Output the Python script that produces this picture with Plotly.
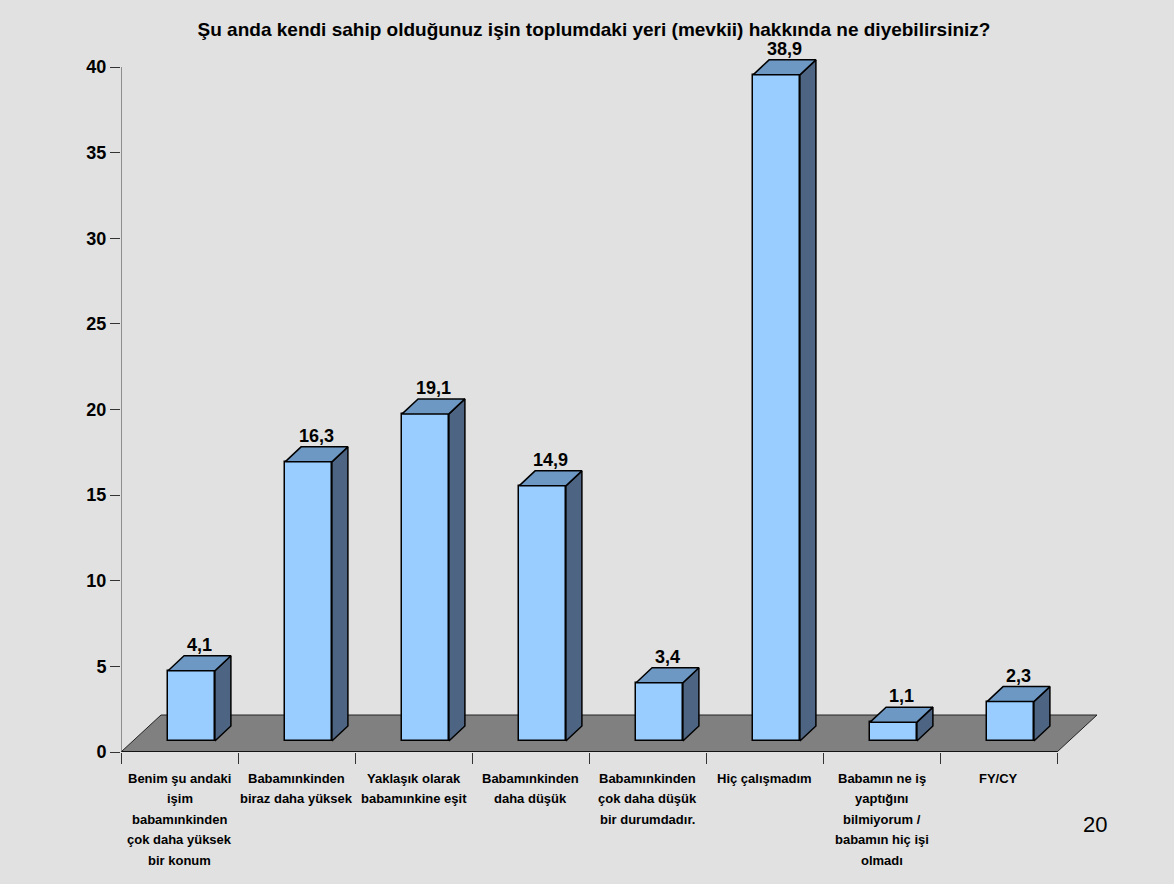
import plotly.graph_objects as go

# data
categories = [
    ["Benim şu andaki", "işim", "babamınkinden", "çok daha yüksek", "bir konum"],
    ["Babamınkinden", "biraz daha yüksek"],
    ["Yaklaşık olarak", "babamınkine eşit"],
    ["Babamınkinden", "daha düşük"],
    ["Babamınkinden", "çok daha düşük", "bir durumdadır."],
    ["Hiç çalışmadım"],
    ["Babamın ne iş", "yaptığını", "bilmiyorum /", "babamın hiç işi", "olmadı"],
    ["FY/CY"],
]
values = [4.1, 16.3, 19.1, 14.9, 3.4, 38.9, 1.1, 2.3]
y_ticks = [0, 5, 10, 15, 20, 25, 30, 35, 40]
title_text = "Şu anda kendi sahip olduğunuz işin toplumdaki yeri (mevkii) hakkında ne diyebilirsiniz?"
page_number = "20"

# geometry in px
W, H = 1174, 884
L, R, T, B = 121, 74, 36, 132
PX_X = 117.0     # px per category
PX_Y = 17.125    # px per unit
plot_w = W - L - R
plot_h = H - T - B
n = len(values)

FLOOR_DX, FLOOR_DY = 40 / PX_X, 37 / PX_Y
FRONT_DX, FRONT_DY = 12 / PX_X, 11 / PX_Y
DEPTH_DX, DEPTH_DY = 16 / PX_X, 15 / PX_Y
BAR_W = 0.4

FONT = "Liberation Sans, Arial, sans-serif"
BG = "#E1E1E1"
FRONT_C, TOP_C, SIDE_C = "#99CCFF", "#6E98C4", "#4D6582"

fig = go.Figure()

centers = [i + FRONT_DX for i in range(n)]
fig.add_trace(go.Bar(
    x=centers, y=values, base=FRONT_DY, width=BAR_W,
    marker=dict(color=FRONT_C, line=dict(color="black", width=1.5)),
    hoverinfo="skip", showlegend=False,
))

side_x, side_y, top_x, top_y = [], [], [], []
for c, v in zip(centers, values):
    lft, rgt = c - BAR_W / 2, c + BAR_W / 2
    bot, tp = FRONT_DY, FRONT_DY + v
    side_x += [rgt, rgt + DEPTH_DX, rgt + DEPTH_DX, rgt, rgt, None]
    side_y += [bot, bot + DEPTH_DY, tp + DEPTH_DY, tp, bot, None]
    top_x += [lft, rgt, rgt + DEPTH_DX, lft + DEPTH_DX, lft, None]
    top_y += [tp, tp, tp + DEPTH_DY, tp + DEPTH_DY, tp, None]

fig.add_trace(go.Scatter(x=side_x, y=side_y, mode="lines", fill="toself",
                         fillcolor=SIDE_C, line=dict(color="black", width=1.5),
                         hoverinfo="skip", showlegend=False))
fig.add_trace(go.Scatter(x=top_x, y=top_y, mode="lines", fill="toself",
                         fillcolor=TOP_C, line=dict(color="black", width=1.5),
                         hoverinfo="skip", showlegend=False))

# floor
x0, x1 = -0.5, n - 0.5
fig.add_shape(type="path", xref="x", yref="y", layer="below",
              path=f"M {x0},0 L {x1},0 L {x1 + FLOOR_DX},{FLOOR_DY} L {x0 + FLOOR_DX},{FLOOR_DY} Z",
              fillcolor="#808080", line=dict(color="#222222", width=1))
fig.add_shape(type="line", xref="x", yref="y", x0=x0, x1=x1, y0=0, y1=0,
              line=dict(color="black", width=1.5))
fig.add_shape(type="line", xref="x", yref="y", x0=x0, x1=x0, y0=0, y1=max(y_ticks),
              line=dict(color="#555555", width=1.2))

annotations = []
for c, v in zip(centers, values):
    annotations.append(dict(
        x=c + DEPTH_DX / 2, y=FRONT_DY + v + DEPTH_DY, xref="x", yref="y",
        text=f"{v:.1f}".replace(".", ","), showarrow=False,
        yanchor="bottom", yshift=-1,
        font=dict(family=FONT, size=18, color="black", weight="bold"),
    ))
for i, lines in enumerate(categories):
    for k, line in enumerate(lines):
        annotations.append(dict(
            x=i, y=0, xref="x", yref="paper", text=line, showarrow=False,
            yanchor="middle", yshift=-(26 + k * 20.6),
            font=dict(family=FONT, size=13, color="black", weight="bold"),
        ))
annotations.append(dict(
    x=(1095 - L) / plot_w, y=-(824 - (T + plot_h)) / plot_h, xref="paper", yref="paper",
    text=page_number, showarrow=False, xanchor="center", yanchor="middle",
    font=dict(family=FONT, size=22, color="black"),
))

fig.update_layout(
    width=W, height=H,
    margin=dict(l=L, r=R, t=T, b=B, pad=0),
    paper_bgcolor=BG, plot_bgcolor=BG,
    bargap=0,
    title=dict(text=title_text, xref="container", yref="container",
               x=594 / W, y=1 - 29 / H, xanchor="center", yanchor="middle",
               font=dict(family=FONT, size=19, color="black", weight="bold")),
    xaxis=dict(range=[-0.5, -0.5 + plot_w / PX_X], showgrid=False, zeroline=False,
               showline=False, tickvals=[i - 0.5 for i in range(n + 1)],
               ticktext=[""] * (n + 1), ticks="outside", ticklen=11,
               tickcolor="#333333", tickwidth=1.2),
    yaxis=dict(range=[0, plot_h / PX_Y], showgrid=False, zeroline=False,
               showline=False, tickvals=y_ticks, ticks="outside", ticklen=10,
               tickcolor="#333333", tickwidth=1.2,
               tickfont=dict(family=FONT, size=18, color="black", weight="bold")),
    annotations=annotations,
)

fig.write_html("out.html", config={"displayModeBar": False},
               post_script="document.body.style.margin='0';")
